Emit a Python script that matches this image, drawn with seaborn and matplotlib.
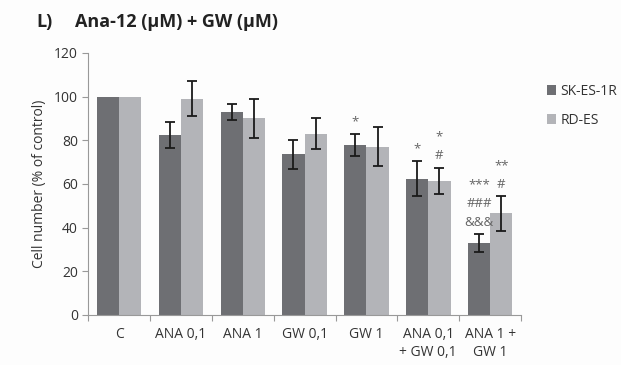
import numpy as np
import pandas as pd
import seaborn as sns
import matplotlib.pyplot as plt

groups = ["C", "ANA 0,1", "ANA 1", "GW 0,1", "GW 1", "ANA 0,1\n+ GW 0,1", "ANA 1 +\nGW 1"]
sk_mean = [100, 82.5, 93, 73.5, 78, 62.5, 33]
sk_err = [0, 6, 3.5, 6.5, 5, 8, 4]
rd_mean = [100, 99, 90, 83, 77, 61.5, 46.5]
rd_err = [0, 8, 9, 7, 9, 6, 8]
sk_marks = ["", "", "", "", "*", "*", "***\n###\n&&&"]
rd_marks = ["", "", "", "", "", "*\n#", "**\n#"]
lines = ["SK-ES-1R", "RD-ES"]

df = pd.DataFrame({
    "group": groups * 2,
    "line": [lines[0]] * len(groups) + [lines[1]] * len(groups),
    "value": sk_mean + rd_mean,
})

sns.set_style("white")
plt.rcParams["font.family"] = ["Open Sans", "DejaVu Sans"]

fig = plt.figure(figsize=(6.21, 3.65), dpi=100, facecolor="#fdfdfd")
ax = fig.add_axes([0.142, 0.137, 0.697, 0.718])
ax.set_facecolor("#fdfdfd")

pal = ["#6e6f73", "#b3b4b8"]
sns.barplot(data=df, x="group", y="value", hue="line", palette=pal,
            width=0.72, gap=0, errorbar=None, saturation=1, ax=ax,
            edgecolor="none")

errs = [sk_err, rd_err]
marks = [sk_marks, rd_marks]
means = [sk_mean, rd_mean]
bar_conts = list(ax.containers)
for k, cont in enumerate(bar_conts):
    for i, bar in enumerate(cont):
        xc = bar.get_x() + bar.get_width() / 2
        if errs[k][i] > 0:
            ax.errorbar(xc, means[k][i], yerr=errs[k][i], color="#1a1a1a",
                        capsize=3.5, elinewidth=1.3, capthick=1.3)
        if marks[k][i]:
            ax.text(xc, means[k][i] + errs[k][i] + 2.5, marks[k][i],
                    ha="center", va="bottom", fontsize=9.5, color="#666666",
                    linespacing=1.55)

ax.set_ylim(0, 120)
ax.set_yticks(range(0, 121, 20))
ax.set_xlim(-0.5, len(groups) - 0.5)
ax.set_xticks(np.arange(-0.5, len(groups)), minor=True)
ax.tick_params(axis="x", which="major", length=0, pad=9, labelsize=10, colors="#333333")
ax.tick_params(axis="x", which="minor", length=4, color="#999999", width=0.8, bottom=True)
ax.tick_params(axis="y", length=4, color="#999999", width=0.8, labelsize=10,
               colors="#333333", left=True)
for s in ["top", "right"]:
    ax.spines[s].set_visible(False)
for s in ["left", "bottom"]:
    ax.spines[s].set_color("#999999")
    ax.spines[s].set_linewidth(0.8)
ax.set_xlabel("")
ax.set_ylabel("Cell number (% of control)", fontsize=10, color="#333333", labelpad=5)

ax.legend(loc="upper left", bbox_to_anchor=(1.03, 0.93), frameon=False,
          fontsize=10, handlelength=0.7, handleheight=0.7, handletextpad=0.3,
          labelspacing=1.0, labelcolor="#333333")

fig.text(0.058, 0.94, "L)", fontsize=13, fontweight="bold", color="#222222", va="center")
fig.text(0.12, 0.94, "Ana-12 (μM) + GW (μM)", fontsize=13, fontweight="bold",
         color="#222222", va="center")

fig.savefig("out.png", dpi=100, facecolor=fig.get_facecolor())
